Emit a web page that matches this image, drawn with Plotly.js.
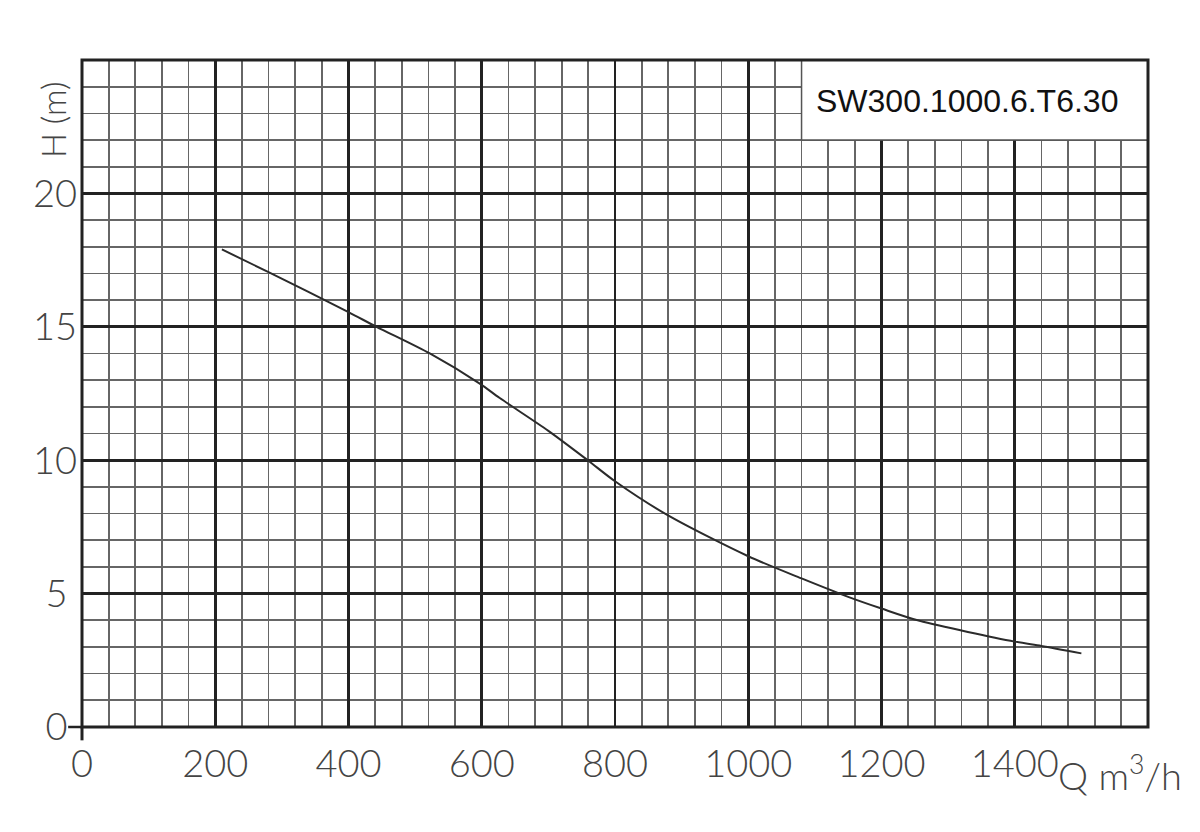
<!DOCTYPE html>
<html>
<head>
<meta charset="utf-8">
<script src="https://cdn.plot.ly/plotly-3.0.1.min.js"></script>
<style>html,body{margin:0;padding:0;background:#fff;}#chart{width:1200px;height:832px;}</style>
</head>
<body>
<div id="chart"></div>
<script>
// Pump curve: flow Q (m3/h) vs head H (m)
const flow = [210, 280, 400, 442, 522, 597, 627, 700, 759, 800, 879, 1000, 1080, 1152, 1200, 1257, 1400, 1440, 1500];
const head = [17.9, 17.05, 15.55, 15.0, 14.0, 12.87, 12.33, 11.1, 10.0, 9.21, 7.94, 6.40, 5.57, 4.86, 4.44, 3.98, 3.20, 3.04, 2.76];
const xTicks = [0, 200, 400, 600, 800, 1000, 1200, 1400];
const yTicks = [0, 5, 10, 15, 20];
const modelName = 'SW300.1000.6.T6.30';
const xUnit = 'Q m<sup>3</sup>/h';
const yUnit = 'H (m)';

const tickFont = {family: 'Lato, Roboto, "DejaVu Sans", sans-serif', size: 38, color: '#444', weight: 300};

const trace = {
  x: flow, y: head, type: 'scatter', mode: 'lines',
  line: {color: '#2b2b2b', width: 2, shape: 'spline', smoothing: 0.8},
  hoverinfo: 'skip', showlegend: false
};

const layout = {
  width: 1200, height: 832,
  margin: {l: 82, r: 52, t: 60, b: 105},
  paper_bgcolor: '#fff', plot_bgcolor: '#fff',
  xaxis: {
    range: [0, 1600], tickvals: xTicks, ticktext: xTicks.map(String),
    showgrid: true, gridcolor: '#222', gridwidth: 2.8,
    minor: {dtick: 40, tick0: 0, showgrid: true, gridcolor: '#666', gridwidth: 1.7},
    zeroline: false, showline: false, ticks: '', tickfont: tickFont, ticklabelstandoff: 11
  },
  yaxis: {
    range: [0, 25], tickvals: yTicks,
    // single-digit labels sit a little further from the axis, as in the drawing
    ticktext: yTicks.map(v => v < 10 ? v + '\u2009\u2009' : String(v)),
    showgrid: true, gridcolor: '#222', gridwidth: 2.8,
    minor: {dtick: 1, tick0: 0, showgrid: true, gridcolor: '#666', gridwidth: 1.7},
    zeroline: false, showline: false, ticks: '', tickfont: tickFont, ticklabelstandoff: 4
  },
  shapes: [
    // white label box covering the grid
    {type: 'rect', xref: 'x', yref: 'y', x0: 1080, x1: 1600, y0: 22, y1: 25,
     fillcolor: '#fff', line: {color: '#555', width: 1.5}, layer: 'above'},
    // plot frame
    {type: 'rect', xref: 'x domain', yref: 'y domain', x0: 0, x1: 1, y0: 0, y1: 1,
     fillcolor: 'rgba(0,0,0,0)', line: {color: '#222', width: 3}, layer: 'above'},
    // small axis extensions at the origin
    {type: 'line', xref: 'x domain', yref: 'y domain', x0: -0.013, x1: 0, y0: 0, y1: 0,
     line: {color: '#222', width: 2.5}, layer: 'above'},
    {type: 'line', xref: 'x domain', yref: 'y domain', x0: 0, x1: 0, y0: -0.02, y1: 0,
     line: {color: '#222', width: 3}, layer: 'above'}
  ],
  annotations: [
    {x: 1328, y: 23.48, xref: 'x', yref: 'y', text: modelName, showarrow: false,
     xanchor: 'center', yanchor: 'middle',
     font: {family: '"Liberation Sans", Arial, sans-serif', size: 32, color: '#111'}},
    {xref: 'paper', yref: 'paper', text: xUnit, showarrow: false,
     xanchor: 'center', yanchor: 'middle', font: tickFont},
    {xref: 'paper', yref: 'paper', text: yUnit, showarrow: false,
     xanchor: 'center', yanchor: 'middle', textangle: -90,
     font: {family: tickFont.family, size: 33, color: '#444', weight: 300}}
  ]
};
// place the unit labels (pixel positions converted to paper coords)
const pw = 1200 - 82 - 52, ph = 832 - 60 - 105;
layout.annotations[1].x = (1120 - 82) / pw;
layout.annotations[1].y = (727 - 773) / ph;
layout.annotations[2].x = (53 - 82) / pw;
layout.annotations[2].y = (727 - 120) / ph;

Plotly.newPlot('chart', [trace], layout, {displayModeBar: false, staticPlot: true});
</script>
</body>
</html>
